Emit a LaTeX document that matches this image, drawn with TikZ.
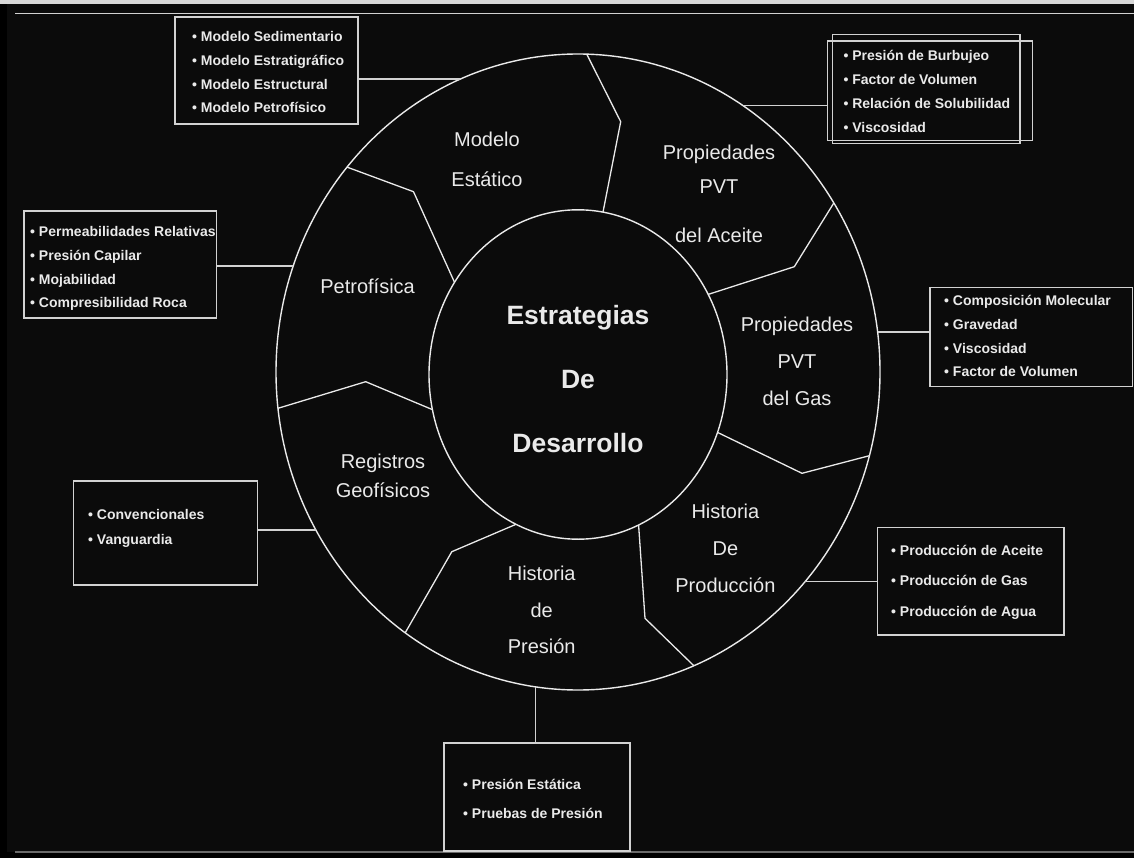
\documentclass[tikz,border=0pt]{standalone}
\usepackage{fontspec}
\setmainfont{Liberation Sans}
\usepackage{xcolor}
\usepackage{tikz}
\usetikzlibrary{positioning, shapes.geometric, calc}

\definecolor{panel}{HTML}{0B0B0B}
\definecolor{ink}{HTML}{EAEAEA}
\definecolor{rim}{HTML}{D2D2D2}
\definecolor{strip}{HTML}{D8D8D8}
\definecolor{floor}{HTML}{6A6A6A}

\newcommand{\itemdot}{\textbullet\ }

\begin{document}
\begin{tikzpicture}[x=1pt, y=-1pt,
  ring/.style={draw=ink, line width=1.4pt, ellipse, inner sep=0pt},
  infobox/.style={draw=rim, line width=1.3pt, inner sep=0pt},
  itemlist/.style={text=ink, align=left, inner sep=0pt, anchor=west, font=\fontsize{14}{#1}\selectfont\bfseries},
  sector/.style={text=ink, align=center, inner sep=0pt, font=\fontsize{20}{#1}\selectfont},
  hub/.style={text=ink, align=center, inner sep=0pt, font=\fontsize{26.5}{64}\selectfont\bfseries},
  link/.style={draw=rim, line width=1.3pt},
  seam/.style={draw=ink, line width=1.3pt, line join=round}]

\useasboundingbox (0,0) rectangle (1134,858);

% Frame
\fill[black] (0,0) rectangle (1134,858);
\fill[panel] (7,4) rectangle (1134,852);
\fill[strip] (0,0) rectangle (1134,4.3);
\draw[rim, line width=1.4pt] (15,13.8) -- (1134,13.8);
\draw[floor, line width=1.6pt] (15,851.7) -- (1134,851.7);

% Rings
\node[ring, minimum width=604, minimum height=636] (outer) at (578,372) {};
\node[ring, minimum width=298, minimum height=329.4] (core) at (578,374.5) {};

\node[hub] (title) at (578,379) {Estrategias\\De\\Desarrollo};

% Sector borders
\draw[seam] (586.7,54.1) -- (620.7,121.7) -- (603,212.1);
\draw[seam] (833.8,203) -- (794.3,266.7) -- (708.2,294.4);
\draw[seam] (869.4,455.7) -- (802,473.3) -- (717.5,432.4);
\draw[seam] (693.8,665.7) -- (645,618.3) -- (638.6,525);
\draw[seam] (405.2,632.8) -- (451.8,551.7) -- (516,524.3);
\draw[seam] (278,408.3) -- (365.7,381.7) -- (432.4,409.6);
\draw[seam] (347,167.1) -- (413.5,191.7) -- (454.5,282.3);

% Sector names
\node[sector=40.3] (estat) at (487,159.2) {Modelo\\Estático};
\node[sector=33.3] (pvta) at (719,193.9) {Propiedades\\PVT\\[15.7pt]del Aceite};
\node[sector=37] (pvtg) at (797,361.3) {Propiedades\\PVT\\del Gas};
\node[sector=36.7] (prod) at (725.4,548.3) {Historia\\De\\Producción};
\node[sector=36.7] (pres) at (541.7,610) {Historia\\de\\Presión};
\node[sector=28.3] (regis) at (383,475.8) {Registros\\Geofísicos};
\node[sector=24] (petro) at (367.6,286.7) {Petrofísica};

% Detail boxes
\node[infobox, minimum width=183, minimum height=107] (estatbox) at (266.5,70.5) {};
\node[infobox, minimum width=187.3, minimum height=109] (pvtabox) at (926.4,88.8) {};
\node[infobox, minimum width=204.6, minimum height=99.7] (pvtaboxb) at (930,90.9) {};
\node[infobox, minimum width=192.7, minimum height=107] (petrobox) at (120.4,264.5) {};
\node[infobox, minimum width=202.3, minimum height=99.4] (pvtgbox) at (1031.2,337) {};
\node[infobox, minimum width=184.4, minimum height=104] (regisbox) at (165.5,533) {};
\node[infobox, minimum width=186.3, minimum height=107.3] (prodbox) at (970.9,581.4) {};
\node[infobox, minimum width=186, minimum height=108] (presbox) at (537,797) {};

\node[itemlist=23.7] (estatlist) at (192,72.2)
  {\itemdot Modelo Sedimentario\\\itemdot Modelo Estratigráfico\\\itemdot Modelo Estructural\\\itemdot Modelo Petrofísico};
\node[itemlist=23.9] (pvtalist) at (843.3,91.4)
  {\itemdot Presión de Burbujeo\\\itemdot Factor de Volumen\\\itemdot Relación de Solubilidad\\\itemdot Viscosidad};
\node[itemlist=23.7] (petrolist) at (30,268.8)
  {\itemdot Permeabilidades Relativas\\\itemdot Presión Capilar\\\itemdot Mojabilidad\\\itemdot Compresibilidad Roca};
\node[itemlist=23.9] (pvtglist) at (944,336)
  {\itemdot Composición Molecular\\\itemdot Gravedad\\\itemdot Viscosidad\\\itemdot Factor de Volumen};
\node[itemlist=25] (regislist) at (88,528.2)
  {\itemdot Convencionales\\\itemdot Vanguardia};
\node[itemlist=30.5] (prodlist) at (891,582.2)
  {\itemdot Producción de Aceite\\\itemdot Producción de Gas\\\itemdot Producción de Agua};
\node[itemlist=29.7] (preslist) at (463,799)
  {\itemdot Presión Estática\\\itemdot Pruebas de Presión};

% Hooks on the outer ring
\coordinate (estathook) at (460.6,79);
\coordinate (pvtahook) at (742.8,105.5);
\coordinate (petrohook) at (293.3,266);
\coordinate (pvtghook) at (877.6,332);
\coordinate (regishook) at (315.9,530);
\coordinate (prodhook) at (805.2,581.5);
\coordinate (preshook) at (535.7,686.9);

\draw[link] (estathook) -- (estathook -| estatbox.east);
\draw[link] (pvtahook) -- (pvtahook -| pvtaboxb.west);
\draw[link] (petrohook) -- (petrohook -| petrobox.east);
\draw[link] (pvtghook) -- (pvtghook -| pvtgbox.west);
\draw[link] (regishook) -- (regishook -| regisbox.east);
\draw[link] (prodhook) -- (prodhook -| prodbox.west);
\draw[link] (preshook) -- (preshook |- presbox.north);

\end{tikzpicture}
\end{document}
